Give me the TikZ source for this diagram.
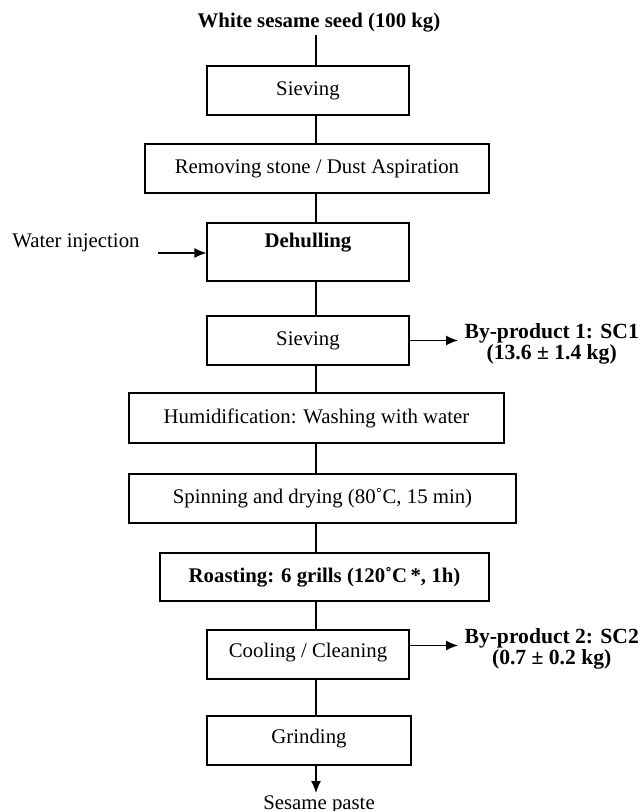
\documentclass[tikz,border=0pt]{standalone}
\usepackage{fontspec}
\setmainfont{Liberation Serif}
\usepackage{tikz}
\usetikzlibrary{fit}
\usetikzlibrary{arrows.meta}

\begin{document}
\begin{tikzpicture}[x=0.5pt, y=0.5pt, line width=0.6pt,
	font=\fontsize{10.4}{12}\selectfont,
	>={Latex[length=6pt, width=5pt]},
	stepbox/.style={draw, inner sep=0pt},
	boldtext/.style={font=\fontsize{10.4}{12}\selectfont\bfseries},
	byprod/.style={align=center, inner sep=3pt, anchor=west, font=\fontsize{10.8}{10.5}\selectfont\bfseries}]
	\useasboundingbox (0,0) rectangle (644,811);
	\coordinate (spine) at (316,0);

	\node[boldtext, inner sep=1pt] (seed) at (319,788) {White sesame seed (100 kg)};	% Input

	\node[stepbox, fit={(207,696) (409,745)}, label=center:Sieving] (sieveA) {};	% Steps
	\node[stepbox, fit={(145,618) (489,667)}, label={center:{Removing stone / Dust Aspiration}}] (stone) {};
	\node[stepbox, fit={(207,530) (409,588)}, label={[boldtext, yshift=4.5pt]center:Dehulling}] (dehull) {};
	\node[stepbox, fit={(207,446) (409,495)}, label=center:Sieving] (sieveB) {};
	\node[stepbox, fit={(129,368) (504,418)}, label={center:{Humidification: Washing with water}}] (humid) {};
	\node[stepbox, fit={(129,288) (516,337)}, label={center:{Spinning and drying (80˚C, 15 min)}}] (spin) {};
	\node[stepbox, fit={(160,210) (489,258)}, label={[boldtext]center:{Roasting: 6 grills (120˚C\,*, 1h)}}] (roast) {};
	\node[stepbox, fit={(207,132) (409,181)}, label={[yshift=1pt]center:{Cooling / Cleaning}}] (cool) {};
	\node[stepbox, fit={(207,46) (411,95)}, label={[yshift=1pt]center:Grinding}] (grind) {};

	\node[anchor=north, inner sep=1pt] (paste) at (319,18) {Sesame paste};	% Output

	\node (water) at (76,568) {Water injection};	% Side streams
	\coordinate (waterin) at (158,558);
	\node[byprod] (scA) at (458,467) {By-product 1: SC1\\(13.6 ± 1.4 kg)};
	\node[byprod] (scB) at (458,162) {By-product 2: SC2\\(0.7 ± 0.2 kg)};

	\draw (seed.south -| spine) -- (sieveA.north -| spine);	% Main line
	\draw (sieveA.south -| spine) -- (stone.north -| spine);
	\draw (stone.south -| spine) -- (dehull.north -| spine);
	\draw (dehull.south -| spine) -- (sieveB.north -| spine);
	\draw (sieveB.south -| spine) -- (humid.north -| spine);
	\draw (humid.south -| spine) -- (spin.north -| spine);
	\draw (spin.south -| spine) -- (roast.north -| spine);
	\draw (roast.south -| spine) -- (cool.north -| spine);
	\draw (cool.south -| spine) -- (grind.north -| spine);
	\draw[->] (grind.south -| spine) -- (paste.north -| spine);

	\draw[->] (waterin) -- (waterin -| dehull.west);	% Arrows
	\draw[->] (sieveB.east) -- (sieveB.east -| scA.west);
	\draw[->] ([yshift=4.5pt]cool.east) coordinate (coolout) -- (coolout -| scB.west);
\end{tikzpicture}
\end{document}
